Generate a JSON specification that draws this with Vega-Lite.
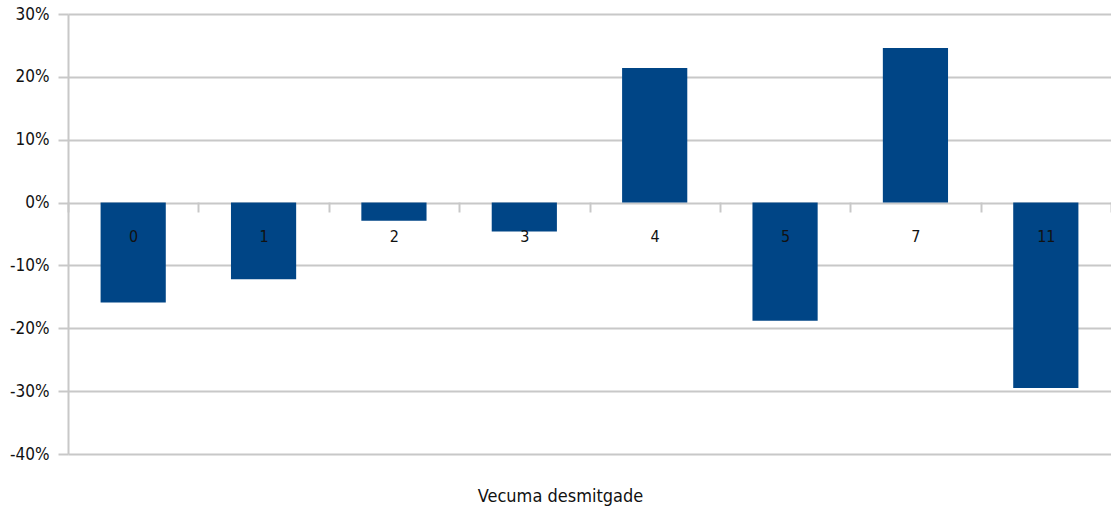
{
  "$schema": "https://vega.github.io/schema/vega-lite/v6.json",
  "autosize": {"type": "none"},
  "width": 1043,
  "height": 440,
  "padding": {"left": 68, "top": 14, "right": 0, "bottom": 56},
  "background": "white",
  "config": {
    "view": {"stroke": null},
    "font": "DejaVu Sans Condensed"
  },
  "data": {
    "values": [
      {"decade": "0", "change": -0.159},
      {"decade": "1", "change": -0.122},
      {"decade": "2", "change": -0.029},
      {"decade": "3", "change": -0.046},
      {"decade": "4", "change": 0.214},
      {"decade": "5", "change": -0.188},
      {"decade": "7", "change": 0.246},
      {"decade": "11", "change": -0.295}
    ]
  },
  "mark": {"type": "bar", "color": "#004586", "width": {"band": 0.5}},
  "encoding": {
    "x": {
      "field": "decade",
      "type": "ordinal",
      "sort": null,
      "scale": {"paddingInner": 0, "paddingOuter": 0},
      "axis": {
        "zindex": 1,
        "title": "Vecuma desmitgade",
        "titleFont": "DejaVu Sans Condensed",
        "titleFontSize": 18,
        "titleFontWeight": "normal",
        "titleColor": "#111111",
        "titleY": 294,
        "titleX": 492,
        "titleBaseline": "middle",
        "labelAngle": 0,
        "labelFont": "DejaVu Sans Condensed",
        "labelFontSize": 16,
        "labelColor": "#111111",
        "labelBaseline": "middle",
        "labelPadding": 24,
        "offset": -252,
        "domain": false,
        "tickColor": "#c8c8c8",
        "tickWidth": 2,
        "tickSize": 10,
        "tickBand": "extent",
        "grid": false
      }
    },
    "y": {
      "field": "change",
      "type": "quantitative",
      "scale": {"domain": [-0.4, 0.3], "nice": false},
      "axis": {
        "title": null,
        "values": [-0.4, -0.3, -0.2, -0.1, 0, 0.1, 0.2, 0.3],
        "labelExpr": "replace(format(datum.value, '.0%'), '\u2212', '-')",
        "labelFont": "DejaVu Sans Condensed",
        "labelFontSize": 17,
        "labelColor": "#111111",
        "labelPadding": 9,
        "tickSize": 10,
        "tickColor": "#c8c8c8",
        "tickWidth": 2,
        "domainColor": "#c8c8c8",
        "domainWidth": 2,
        "grid": true,
        "gridColor": "#c8c8c8",
        "gridWidth": 2
      }
    }
  }
}
